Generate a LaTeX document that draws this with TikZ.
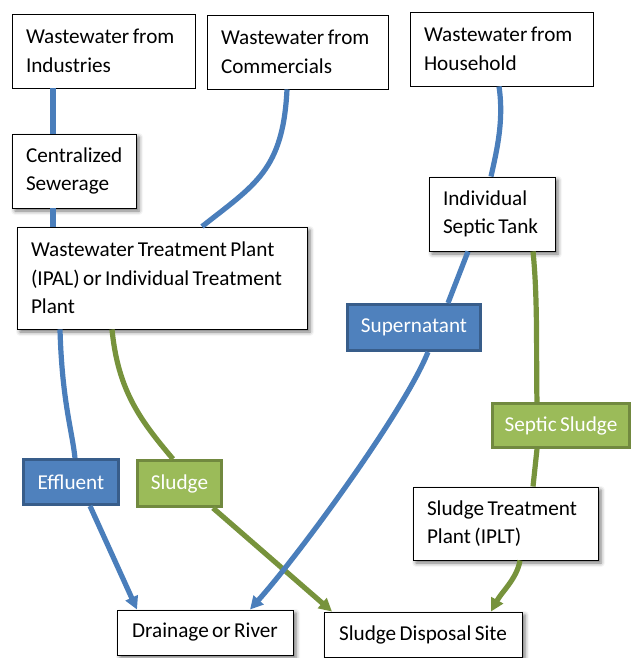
\documentclass[tikz,border=0pt]{standalone}
\usepackage{fontspec}
\setmainfont{Carlito}[WordSpace=0.7]
\usetikzlibrary{arrows.meta,shadows,shadows.blur}
\definecolor{blueF}{HTML}{4F81BD}
\definecolor{blueB}{HTML}{385D8A}
\definecolor{blueL}{HTML}{4A7EBB}
\definecolor{greenF}{HTML}{9BBB59}
\definecolor{greenB}{HTML}{71893F}
\definecolor{greenL}{HTML}{77933C}
\newcommand\fsz{\fontsize{21.2}{28.5}\selectfont}
\newcommand\LL[1]{\mbox{\spaceskip=0.16em\relax #1}}
\tikzset{
  wbox/.style={draw=black, line width=0.9pt, fill=white, font=\fsz,
    inner xsep=14pt, inner ysep=0pt, align=left},
  shad/.style={blur shadow={shadow xshift=3pt, shadow yshift=-3pt,
    shadow blur radius=4pt, shadow opacity=55}},
  bbox/.style={draw=blueB, line width=3pt, fill=blueF, text=white, font=\fsz,
    inner sep=0pt, align=center},
  gbox/.style={draw=greenB, line width=3pt, fill=greenF, text=white, font=\fsz,
    inner sep=0pt, align=center},
  bline/.style={draw=blueL, line width=5.2pt},
  gline/.style={draw=greenL, line width=5.2pt},
  tip/.style={-{Triangle[length=13pt,width=13pt]}}
}
\begin{document}
\begin{tikzpicture}[x=1pt,y=-1pt]
\useasboundingbox (0,0) rectangle (631,658);
% top boxes
\node[wbox, minimum width=183pt, minimum height=74pt, text width=155pt] (ind) at (103.5,51) {\LL{Wastewater from}\\\LL{Industries}};
\node[wbox, minimum width=181pt, minimum height=74pt, text width=153pt] (com) at (297.5,52) {\LL{Wastewater from}\\\LL{Commercials}};
\node[wbox, minimum width=183pt, minimum height=74pt, text width=155pt] (hh) at (501.5,49) {\LL{Wastewater from}\\\LL{Household}};
% middle
\node[wbox, shad, minimum width=124pt, minimum height=74pt, text width=96pt] (cs) at (74,171) {\LL{Centralized}\\\LL{Sewerage}};
\node[wbox, shad, minimum width=290pt, minimum height=102pt, text width=262pt] (wtp) at (162,278) {\LL{Wastewater Treatment Plant}\\\LL{(IPAL) or Individual Treatment}\\\LL{Plant}};
\node[wbox, shad, minimum width=126pt, minimum height=74pt, text width=98pt] (ist) at (492,214) {\LL{Individual}\\\LL{Septic Tank}};
\node[bbox, minimum width=133pt, minimum height=46pt] (sup) at (414,327.5) {Supernatant};
\node[gbox, minimum width=137pt, minimum height=44pt] (ss) at (561,425.5) {Septic Sludge};
\node[bbox, minimum width=95pt, minimum height=45pt] (eff) at (71,482) {Effluent};
\node[gbox, minimum width=84pt, minimum height=46pt] (sl) at (179.5,483.5) {Sludge};
\node[wbox, shad, minimum width=185pt, minimum height=73pt, text width=157pt] (stp) at (505.5,523.5) {\LL{Sludge Treatment}\\\LL{Plant (IPLT)}};
% bottom
\node[wbox, shad, align=center, minimum width=176pt, minimum height=45pt] (dr) at (205,632.5) {\LL{Drainage or River}};
\node[wbox, shad, align=center, minimum width=198pt, minimum height=45pt] (sds) at (423,634.5) {\LL{Sludge Disposal Site}};
% connectors
\draw[bline] ([xshift=-50.5pt]ind.south) -- ([xshift=-21pt]cs.north);
\draw[bline] ([xshift=-21pt]cs.south) -- ([xshift=-109pt]wtp.north);
\draw[bline] ([xshift=-10.5pt]com.south) .. controls +(-4,81) and +(53,-42) .. ([xshift=40pt]wtp.north);
\draw[bline] ([xshift=-2.5pt]hh.south) .. controls +(5,34) and +(6,-27) .. ([xshift=-1pt]ist.north);
\draw[bline] ([xshift=-102pt]wtp.south) .. controls +(2,71) and +(-3,-28) .. ([xshift=4pt]eff.north);
\draw[gline] ([xshift=-50pt]wtp.south) .. controls +(6,61) and +(-33,-39) .. ([xshift=-6.5pt]sl.north);
\draw[gline, tip] ([xshift=33.5pt]sl.south) -- ([xshift=-91pt]sds.north);
\draw[bline, tip] ([xshift=19pt]eff.south) -- ([xshift=-68pt]dr.north);
\draw[gline] ([xshift=41pt]ist.south) .. controls +(5,49) and +(-1,-42) .. ([xshift=-24pt]ss.north);
\draw[gline] ([xshift=-24pt]ss.south) -- ([xshift=27.5pt]stp.north);
\draw[gline, tip] ([xshift=14.5pt]stp.south) .. controls +(-3,18) and +(11,-20) .. ([xshift=68pt]sds.north);
\draw[bline] ([xshift=-24pt]ist.south) -- ([xshift=34pt]sup.north);
\draw[bline, tip] ([xshift=14pt]sup.south) .. controls +(-23,58) and +(50,-56) .. ([xshift=45pt]dr.north);
\end{tikzpicture}
\end{document}
